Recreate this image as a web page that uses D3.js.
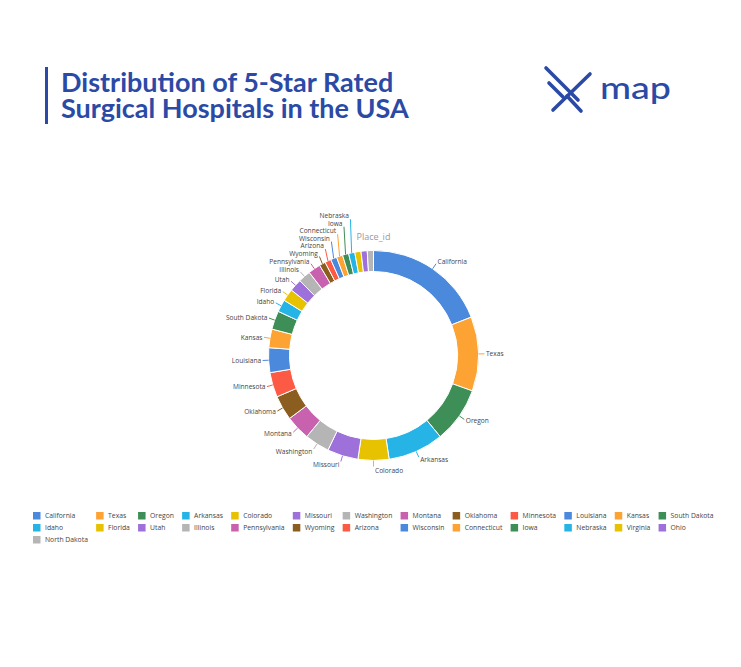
<!DOCTYPE html>
<html>
<head>
<meta charset="utf-8">
<script src="https://cdn.jsdelivr.net/npm/d3@7"></script>
<style>
  html, body { margin: 0; padding: 0; background: #fff; }
  svg { display: block; }
</style>
</head>
<body>
<svg id="canvas" width="741" height="667"></svg>
<script>
// states, in the order the pie draws them (largest first)
var states = ["California", "Texas", "Oregon", "Arkansas", "Colorado", "Missouri",
	"Washington", "Montana", "Oklahoma", "Minnesota", "Louisiana", "Kansas",
	"South Dakota", "Idaho", "Florida", "Utah", "Illinois", "Pennsylvania",
	"Wyoming", "Arizona", "Wisconsin", "Connecticut", "Iowa", "Nebraska",
	"Virginia", "Ohio", "North Dakota"];
// number of 5-star surgical hospitals (Place_id count)
var hospitals = [20, 12, 9, 9, 5, 5, 4, 4, 4, 4, 4, 3, 3, 2, 2, 2, 2, 2, 1, 1, 1, 1, 1, 1, 1, 1, 1];
var palette = ["#4a89dc", "#fda334", "#3e8e57", "#26b4e6", "#e6c200",
	"#9d70da", "#b5b5b5", "#c862ae", "#8b5e1f", "#fc5a45"];
// slices too crowded to get an outside label
var hiddenLabels = ["Virginia", "Ohio", "North Dakota"];
var titleLines = ["Distribution of 5-Star Rated", "Surgical Hospitals in the USA"];
var pieTitle = "Place_id";

var blue = "#2b4aa6";
var textCol = "#444";
var font = "'Open Sans', sans-serif";

var svg = d3.select("#canvas");

// ---- header ----
svg.append("rect")
	.attr("x", 45).attr("y", 67).attr("width", 3).attr("height", 57)
	.attr("fill", blue);

svg.append("text")
	.attr("font-family", "Lato, sans-serif")
	.attr("font-weight", 700)
	.attr("font-size", 27)
	.attr("fill", blue)
	.selectAll("tspan")
	.data(titleLines)
	.enter()
	.append("tspan")
		.attr("x", 61)
		.attr("y", function(d, i){ return 92 + i * 25.5; })
		.text(function(d){ return d; });

// logo
var logo = svg.append("g")
	.attr("stroke", blue).attr("stroke-width", 3.6)
	.attr("stroke-linecap", "round").attr("fill", "none");
logo.append("path").attr("d", "M546,68 L578,100");
logo.append("path").attr("d", "M590,74 L553,110");
logo.append("path").attr("d", "M549,83 L563,97");
logo.append("path").attr("d", "M567,96 L581,111");
svg.append("text")
	.attr("x", 600).attr("y", 99)
	.attr("font-family", "Lato, sans-serif")
	.attr("font-weight", 500)
	.attr("font-size", 31)
	.attr("textLength", 71)
	.attr("lengthAdjust", "spacingAndGlyphs")
	.attr("fill", blue)
	.text("map");

// ---- donut ----
var cx = 373.5, cy = 355.5;
var R = 105, r0 = 84;

var color = d3.scaleOrdinal().domain(states).range(palette);
var rows = states.map(function(s, i){ return {state: s, value: hospitals[i]}; });

var pie = d3.pie().sort(null).value(function(d){ return d.value; });
var arcs = pie(rows);
var arc = d3.arc().innerRadius(r0).outerRadius(R);

var chart = svg.append("g").attr("transform", "translate(" + cx + "," + cy + ")");

chart.selectAll("path.slice")
	.data(arcs)
	.enter()
	.append("path")
		.attr("class", "slice")
		.attr("d", arc)
		.attr("fill", function(d){ return color(d.data.state); })
		.attr("stroke", "#fff")
		.attr("stroke-width", 1);

chart.append("text")
	.attr("x", 0).attr("y", -R - 11)
	.attr("text-anchor", "middle")
	.attr("font-family", font)
	.attr("font-size", 9)
	.attr("fill", "#9a9a9a")
	.text(pieTitle);

// outside labels, pushed apart inside each quadrant
var lh = 7.6;
var labels = arcs.filter(function(a){
	return hiddenLabels.indexOf(a.data.state) < 0;
}).map(function(a){
	var mid = (a.startAngle + a.endAngle) / 2;
	var ux = Math.sin(mid), uy = -Math.cos(mid);
	var ex = (R + 6) * ux, ey = (R + 6) * uy;
	var ty = ey + (uy < 0 ? -1 : 1) * lh / 2 * uy * uy;
	return {a: a, mid: mid, ux: ux, uy: uy, px: R * ux, py: R * uy, ex: ex, ey: ey, ty: ty, shift: 0};
});

function scoot(list, up){
	var prev = null;
	list.forEach(function(l){
		if(prev !== null)
		{
			if(up && l.ty > prev - lh) { l.shift = (prev - lh) - l.ty; l.ty = prev - lh; }
			if(!up && l.ty < prev + lh) { l.shift = (prev + lh) - l.ty; l.ty = prev + lh; }
		}
		prev = l.ty;
	});
}
var TL = labels.filter(function(l){ return l.ux < 0 && l.uy < 0; }).sort(function(a, b){ return a.mid - b.mid; });
var TR = labels.filter(function(l){ return l.ux >= 0 && l.uy < 0; }).sort(function(a, b){ return b.mid - a.mid; });
var BL = labels.filter(function(l){ return l.ux < 0 && l.uy >= 0; }).sort(function(a, b){ return b.mid - a.mid; });
var BR = labels.filter(function(l){ return l.ux >= 0 && l.uy >= 0; }).sort(function(a, b){ return a.mid - b.mid; });
scoot(TL, true); scoot(TR, true); scoot(BL, false); scoot(BR, false);

var lab = chart.selectAll("g.lab")
	.data(labels)
	.enter()
	.append("g")
		.attr("class", "lab");

lab.append("path")
	.attr("d", function(d){
		return "M" + d.px + "," + d.py + "L" + d.ex + "," + (d.ey + d.shift);
	})
	.attr("stroke", function(d){ return color(d.a.data.state); })
	.attr("stroke-width", 1)
	.attr("fill", "none");

lab.append("text")
	.attr("x", function(d){ return d.ex + (d.ux < 0 ? -1.5 : 1.5); })
	.attr("y", function(d){ return d.ty + 2.4; })
	.attr("text-anchor", function(d){ return d.ux < 0 ? "end" : "start"; })
	.attr("font-family", font)
	.attr("font-size", 6.6)
	.attr("fill", textCol)
	.text(function(d){ return d.a.data.state; });

// ---- legend ----
var nCols = 13;
var legend = svg.append("g");
var items = legend.selectAll("g.item")
	.data(states)
	.enter()
	.append("g")
		.attr("class", "item");

items.append("rect")
	.attr("width", 7.5).attr("height", 7.5)
	.attr("fill", function(d){ return color(d); });
items.append("text")
	.attr("x", 12).attr("y", 6.2)
	.attr("font-family", font)
	.attr("font-size", 6.8)
	.attr("fill", textCol)
	.text(function(d){ return d; });

var widths = [];
items.select("text").each(function(d, i){
	var c = i % nCols;
	var w = this.getComputedTextLength();
	widths[c] = Math.max(widths[c] || 0, w);
});
var colX = [33];
for(var c = 1; c < nCols; c++){
	colX[c] = colX[c - 1] + 12 + widths[c - 1] + 8.2;
}
items.attr("transform", function(d, i){
	return "translate(" + colX[i % nCols] + "," + (512 + Math.floor(i / nCols) * 12) + ")";
});
</script>
</body>
</html>
